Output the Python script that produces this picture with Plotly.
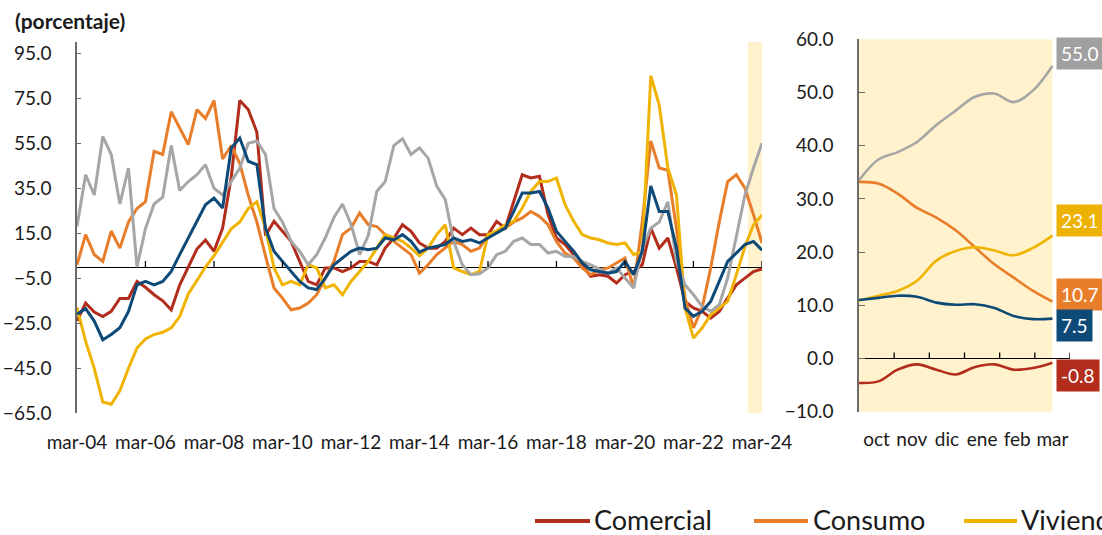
import numpy as np
import pandas as pd
import plotly.graph_objects as go

W, H = 1102, 535
FONT = "Lato"

# ---------------- data (left panel, quarterly, mar-04 .. mar-24) ----------------
dates = pd.date_range("2004-03-01", "2024-03-01", freq="3MS")

comercial = [-24, -16, -20, -22, -19.7, -14, -14, -6.4, -9, -12.3, -15, -19, -8, 0, 8, 12, 7, 17.3,
             40, 74, 70, 60, 14, 20.3, 15.9, 11.4, 2.5, -6.4, -7.9, -0.4, -0.4, -2, -0.4, 2.5, 2.5, 1,
             8.4, 12.9, 18.8, 15.9, 10.7, 8.4, 8.4, 11.4, 17.3, 14.4, 17.3, 14.4, 14.4, 20.3, 17.3, 29,
             41, 39.6, 40.3, 23.3, 12.9, 10, 5.5, 1, -4.1, -3.4, -4.1, -7.1, -3.4, -2, 1, 17.3, 8.4,
             12.9, -0.4, -15.3, -18.2, -19.7, -22.7, -19.7, -13.8, -7.9, -4.9, -2, -0.8]
consumo = [1, 14.4, 5.5, 2.5, 16, 8.4, 20, 26, 29, 51.4, 50, 69, 61.8, 54.4, 70, 66, 74, 48, 54, 46,
           32, 20, 5, -9.3, -13.8, -19, -18.2, -16, -12.3, -4.9, 2.5, 14.4, 17.3, 24, 18.8, 18, 14.4,
           11.4, 8.4, 5.5, -2.7, 1, 5.5, 8.4, 11.4, 10, 7, 8.4, 14.4, 16, 17.3, 20, 21.8, 24.7, 22.5,
           18.8, 11.4, 6.2, 4, -0.4, -3.4, -1.2, -0.4, 1.8, 4, -9.3, 20, 56, 44, 43, 17, -13.8, -27,
           -18.2, -0.4, 20, 38, 41, 35, 23.3, 10.7]
vivienda = [-18, -33, -45, -60, -61, -55, -45, -36, -32, -30, -29, -27, -22, -12, -6, 0, 5, 11, 17,
            20, 26, 29, 17.3, -0.4, -7.9, -6.4, -7.9, 1, -0.4, -9.3, -7.9, -12.3, -6.4, -2, 2.5, 8.4,
            14.4, 13, 11.4, 8.4, 5, 8.4, 14.4, 18.8, -0.4, -2, -3.4, -2, 14.4, 16, 18.8, 20.3, 26.2,
            33.6, 38, 38, 39.6, 27.7, 20.3, 14.4, 12.9, 12.1, 10.7, 10, 10.7, 5.5, 7, 85, 72, 44, 32,
            -18.2, -31.6, -27.1, -21.2, -18.2, -15.3, -3.4, 9, 18.8, 23.1]
microcredito = [18, 41, 32, 58, 50, 28, 44, 0, 17, 28, 31, 54, 34, 38, 41, 45.5, 35, 32, 38, 44, 55,
                56, 50, 26, 20, 11.4, 7, 1, 5.5, 13, 22, 28, 19, 5.5, 14, 33.6, 38, 54, 57, 50, 53,
                48.4, 36, 30, 11.4, 1, -3.4, -3, -0.4, 5.5, 7, 11.4, 12.9, 10, 10, 6.2, 7, 4.7, 4.7,
                2.5, 1, -1, -2.7, -0.4, -5, -9.3, 8.4, 17.3, 20, 29, 2.5, -7.9, -12.3, -17.5, -19.7,
                -16.7, -4.9, 14.4, 32, 44, 55]
total = [-21, -18.5, -24, -32.3, -30, -27, -19.7, -7.9, -6.4, -7.9, -6.4, -2, 5.5, 13, 20.3, 27.7,
         30.7, 26.2, 52.9, 57.3, 47, 45.5, 17.3, 7, 2.5, -2, -6.4, -9.3, -10, -4.9, 1, 4, 7, 8.4, 7.7,
         8.4, 12.9, 12.1, 14.4, 11.4, 6.6, 8.4, 9.2, 10, 12.9, 11.4, 12.1, 10.7, 12.9, 15, 17.3, 24.7,
         32.9, 32.9, 33.6, 26.2, 15.9, 11.4, 7, 1.8, -1.2, -2, -2.7, -2, 2.5, -3.4, 7, 36, 24.7, 24.7,
         8.4, -18.2, -21.9, -19.7, -15.3, -6.4, 2.5, 6.2, 10, 11.4, 7.5]

tick_years = list(range(2004, 2025, 2))
tick_dates = [f"{y}-03-01" for y in tick_years]
tick_text = [f"mar-{y % 100:02d}" for y in tick_years]
left_yticks = list(range(-65, 96, 20))

# ---------------- data (right panel, oct-23 .. mar-24) ----------------
months_r = ["oct", "nov", "dic", "ene", "feb", "mar"]
comercial_r = [-4.6, -4.3, -2.1, -1.1, -2.1, -3.0, -1.6, -1.1, -2.1, -1.8, -0.8]
consumo_r = [33.2, 32.9, 31.0, 28.3, 26.5, 24.1, 20.9, 17.7, 15.2, 12.7, 10.7]
vivienda_r = [10.9, 11.8, 12.7, 14.6, 18.4, 20.2, 20.9, 20.3, 19.4, 20.8, 23.1]
microcredito_r = [33.5, 37.4, 38.8, 40.7, 43.9, 46.6, 49.2, 49.8, 48.2, 50.4, 55.0]
total_r = [11.0, 11.4, 11.8, 11.6, 10.5, 10.1, 10.2, 9.5, 8.0, 7.4, 7.5]
right_yticks = list(range(-10, 61, 10))

names = ["Comercial", "Consumo", "Vivienda", "Microcrédito", "Total"]
colors = ["#B22D1B", "#E87D2A", "#F0B400", "#A6A6A6", "#0E4A78"]
box_colors = ["#B22D1B", "#E87D2A", "#EDB100", "#A0A0A0", "#0E4A78"]
left_series = [comercial, consumo, vivienda, microcredito, total]
right_series = [comercial_r, consumo_r, vivienda_r, microcredito_r, total_r]

# ---------------- layout geometry ----------------
def fx(px):
    return px / W

def fy(py):
    return 1 - py / H

L_x = [fx(77), fx(762)]
L_y = [fy(413.3), fy(42)]
R_x = [fx(859), fx(1070)]
R_y = [fy(411.7), fy(39.3)]
L_rng = [-65, 100]
R_rng = [-10, 60]
L_ppu = (L_y[1] - L_y[0]) * H / (L_rng[1] - L_rng[0])   # pixels per unit
R_ppu = (R_y[1] - R_y[0]) * H / (R_rng[1] - R_rng[0])
TICK_PX = 6
xr_pos = np.linspace(0, 5.5, len(total_r))

fig = go.Figure()
for name, col, ys in zip(names, colors, left_series):
    fig.add_trace(go.Scatter(x=dates, y=ys, name=name, mode="lines",
                             line=dict(color=col, width=3), xaxis="x", yaxis="y",
                             showlegend=False))
for name, col, ys in zip(names, colors, right_series):
    fig.add_trace(go.Scatter(x=xr_pos, y=ys, name=name, mode="lines",
                             line=dict(color=col, width=2.6, shape="spline", smoothing=1.0),
                             xaxis="x2", yaxis="y2", showlegend=False))

tickfont = dict(family=FONT, size=19, color="#1a1a1a")

fig.update_layout(
    width=W, height=H,
    margin=dict(l=0, r=0, t=0, b=0, autoexpand=False),
    paper_bgcolor="white", plot_bgcolor="rgba(0,0,0,0)",
    font=dict(family=FONT, color="#1a1a1a"),
    xaxis=dict(domain=L_x, anchor="y", type="date",
               range=["2004-03-01", "2024-03-01"], tickvals=tick_dates, ticktext=tick_text,
               ticks="", showline=False, showgrid=False, zeroline=False,
               tickfont=tickfont, ticklabelstandoff=16),
    yaxis=dict(domain=L_y, anchor="x", range=L_rng, tickvals=left_yticks, tickformat=".1f",
               ticks="inside", ticklen=4, tickcolor="#6b6b6b", showline=True,
               linecolor="#6b6b6b", linewidth=1.5, showgrid=False,
               zeroline=True, zerolinecolor="#000", zerolinewidth=1.3,
               tickfont=tickfont, ticklabelstandoff=20),
    xaxis2=dict(domain=R_x, anchor="y2", range=[0, 6],
                tickvals=[i + 0.5 for i in range(len(months_r))], ticktext=months_r,
                ticks="", showline=False, showgrid=False, zeroline=False,
                tickfont=tickfont, ticklabelstandoff=14),
    yaxis2=dict(domain=R_y, anchor="x2", range=R_rng, tickvals=right_yticks, tickformat=".1f",
                ticks="inside", ticklen=6, tickcolor="#6b6b6b", showline=True,
                linecolor="#6b6b6b", linewidth=1.5, showgrid=False,
                zeroline=True, zerolinecolor="#000", zerolinewidth=1.3,
                tickfont=tickfont, ticklabelstandoff=20),
)

# highlighted recent period
fig.add_shape(type="rect", xref="x", yref="y domain", x0="2023-10-01", x1="2024-03-01",
              y0=0, y1=1, fillcolor="#FFF2CC", line=dict(width=0), layer="below")
fig.add_shape(type="rect", xref="x2", yref="y2 domain", x0=0, x1=xr_pos[-1],
              y0=0, y1=1, fillcolor="#FFF2CC", line=dict(width=0), layer="below")

# tick marks on the zero lines (pointing up)
for d in tick_dates[1:]:
    fig.add_shape(type="line", xref="x", yref="y", x0=d, x1=d, y0=0, y1=TICK_PX / L_ppu,
                  line=dict(color="#000", width=1.3))
for k in range(1, 7):
    fig.add_shape(type="line", xref="x2", yref="y2", x0=k, x1=k, y0=0, y1=TICK_PX / R_ppu,
                  line=dict(color="#000", width=1.3))

# title
fig.add_annotation(text="<b>(porcentaje)</b>", xref="paper", yref="paper",
                   x=fx(13), y=fy(20), xanchor="left", yanchor="middle", showarrow=False,
                   font=dict(family=FONT, size=21, color="#1a1a1a"))

# end-value labels
yshifts = [-13, 7, 15, 12, -7]
for ys, col, sh in zip(right_series, box_colors, yshifts):
    fig.add_annotation(text=f"{ys[-1]:.1f}", xref="x2", yref="y2", x=xr_pos[-1], y=ys[-1],
                       xanchor="left", yanchor="middle", xshift=4, yshift=sh, showarrow=False,
                       bgcolor=col, borderpad=4,
                       font=dict(family=FONT, size=19, color="white"))

# legend (the original is cut at the right edge)
leg_y = fy(519)
leg_items = [(535, 590, 592), (754, 808, 811), (964, 1017, 1019)]
for (x0, x1, xt), name, col in zip(leg_items, names[:3], colors[:3]):
    fig.add_shape(type="line", xref="paper", yref="paper", x0=fx(x0), x1=fx(x1),
                  y0=fy(521), y1=fy(521), line=dict(color=col, width=4))
    fig.add_annotation(text=name, xref="paper", yref="paper", x=fx(xt), y=leg_y,
                       xanchor="left", yanchor="middle", showarrow=False,
                       font=dict(family=FONT, size=27, color="#1a1a1a"))

fig.write_html("out.html", config={"displayModeBar": False},
               post_script="document.body.style.margin='0';document.body.style.overflow='hidden';")
